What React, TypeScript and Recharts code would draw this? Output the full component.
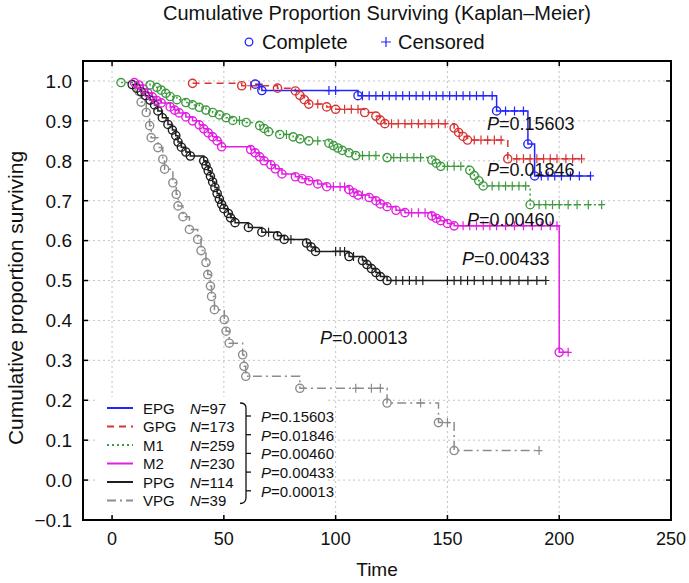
import React from "react";
import { LineChart, Line, XAxis, YAxis, CartesianGrid } from "recharts";

// ---- layout (pixels) ----
const W = 689;
const H = 583;
const PLOT_L = 83;
const PLOT_R = 671;
const PLOT_T = 61;
const PLOT_B = 520;
const FONT = '"Liberation Sans", Arial, Helvetica, sans-serif';

// ---- axes ----
const X_TICKS = [0, 50, 100, 150, 200, 250];
const Y_TICKS = [-0.1, 0, 0.1, 0.2, 0.3, 0.4, 0.5, 0.6, 0.7, 0.8, 0.9, 1.0];

// ---- groups ----
const GROUPS = ["EPG", "GPG", "M1", "M2", "PPG", "VPG"];
const GROUP_N = [97, 173, 259, 230, 114, 39];
const P_VALUES = ["0.15603", "0.01846", "0.00460", "0.00433", "0.00013"];

// [time, cumulative proportion surviving] at each complete (event) time
const EPG_EVENTS: [number, number][] = [
  [64, 0.992], [67, 0.976], [110, 0.963], [172, 0.925], [186, 0.842], [189, 0.762],
];
const EPG_CENS = [97, 100, 112, 115, 118, 121, 124, 127, 130, 133, 136, 139, 142, 145, 148, 151, 154, 157, 160, 163, 166, 170, 176, 180, 184, 192, 195, 198, 201, 205, 209, 214];

const GPG_EVENTS: [number, number][] = [
  [36, 0.994], [58, 0.988], [74, 0.982], [82, 0.975], [84, 0.964], [86, 0.953], [88, 0.942],
  [96, 0.935], [100, 0.929], [113, 0.921], [118, 0.912], [120, 0.902], [122, 0.893],
  [153, 0.882], [155, 0.871], [157, 0.861], [159, 0.852], [177, 0.805],
];
const GPG_CENS = [62, 66, 92, 104, 107, 110, 125, 128, 131, 134, 137, 140, 143, 146, 149, 162, 165, 168, 171, 174, 181, 184, 187, 190, 193, 196, 199, 203, 206, 210];

const M1_EVENTS: [number, number][] = [
  [4, 0.996], [17, 0.99], [20, 0.984], [22, 0.977], [24, 0.969], [26, 0.961], [29, 0.953],
  [33, 0.946], [36, 0.94], [39, 0.934], [42, 0.927], [45, 0.921], [48, 0.915], [51, 0.908],
  [54, 0.901], [60, 0.896], [66, 0.888], [68, 0.881], [70, 0.873], [75, 0.866], [81, 0.86],
  [84, 0.855], [88, 0.85], [97, 0.844], [99, 0.838], [101, 0.832], [103, 0.826], [106, 0.82],
  [109, 0.813], [123, 0.808], [143, 0.802], [145, 0.794], [147, 0.786], [160, 0.776],
  [162, 0.763], [164, 0.75], [166, 0.737], [187, 0.69],
];
const M1_CENS = [57, 78, 92, 112, 115, 118, 126, 129, 132, 135, 138, 150, 153, 156, 170, 173, 176, 179, 182, 185, 191, 194, 197, 200, 204, 208, 213, 219];

const M2_EVENTS: [number, number][] = [
  [10, 0.996], [12, 0.99], [14, 0.98], [16, 0.97], [18, 0.96], [20, 0.951], [22, 0.945],
  [26, 0.935], [28, 0.927], [30, 0.92], [33, 0.91], [36, 0.9], [39, 0.89], [41, 0.88],
  [43, 0.87], [45, 0.86], [47, 0.85], [49, 0.835], [62, 0.828], [64, 0.82], [66, 0.81],
  [68, 0.8], [71, 0.79], [73, 0.78], [76, 0.767], [82, 0.76], [85, 0.755], [88, 0.75],
  [92, 0.742], [96, 0.735], [106, 0.728], [108, 0.72], [110, 0.714], [115, 0.708],
  [118, 0.7], [120, 0.692], [123, 0.685], [127, 0.676], [131, 0.67], [143, 0.662],
  [145, 0.656], [147, 0.65], [150, 0.643], [153, 0.637], [200, 0.32],
];
const M2_CENS = [99, 102, 104, 112, 134, 137, 140, 157, 160, 163, 166, 169, 172, 176, 180, 184, 188, 192, 196, 199, 204];

const PPG_EVENTS: [number, number][] = [
  [9, 0.991], [11, 0.982], [13, 0.973], [15, 0.963], [17, 0.952], [19, 0.94], [20.5, 0.925],
  [22.5, 0.908], [25, 0.891], [27, 0.877], [28.5, 0.863], [29.5, 0.847], [31, 0.834],
  [33, 0.822], [35, 0.812], [41, 0.8], [42, 0.788], [43, 0.775], [44, 0.761], [45, 0.747],
  [46, 0.733], [47, 0.718], [48, 0.704], [49, 0.691], [50, 0.68], [52, 0.668], [53, 0.657],
  [55, 0.645], [61, 0.633], [67, 0.621], [74, 0.612], [77, 0.603], [87, 0.594], [89, 0.584],
  [91, 0.573], [106, 0.56], [112, 0.55], [114, 0.54], [116, 0.53], [118, 0.52], [120, 0.51],
  [123, 0.5],
];
const PPG_CENS = [70, 80, 100, 102, 104, 108, 127, 130, 133, 136, 139, 150, 153, 156, 159, 162, 166, 170, 174, 178, 182, 186, 190, 194];

const VPG_EVENTS: [number, number][] = [
  [12, 0.974], [13, 0.947], [15.3, 0.921], [16.8, 0.888], [17.5, 0.858], [20.5, 0.833],
  [22.7, 0.804], [23.5, 0.779], [27.2, 0.745], [28.7, 0.716], [29.5, 0.687], [31.7, 0.66],
  [34.6, 0.628], [38.3, 0.603], [39.8, 0.575], [42, 0.545], [42.8, 0.515], [44, 0.486],
  [44.5, 0.46], [45.8, 0.427], [50.2, 0.402], [51, 0.373], [52.4, 0.343], [58.4, 0.314],
  [59, 0.285], [59.8, 0.26], [84, 0.23], [123, 0.193], [146, 0.144], [153, 0.074],
];
const VPG_CENS = [109, 116, 120, 138, 150, 191];

const COLORS = ["#2424ff", "#d83434", "#3f9a3f", "#e21fe2", "#1e1e1e", "#8c8c8c"];
const DASHES = ["none", "7 5", "2 3", "none", "none", "9 4 2 4"];

type Pt = { t: number; s: number; k: "o" | "+" };

// merge complete and censored times; a censored case sits on the current step level
function buildSeries(events: [number, number][], cens: number[]): Pt[] {
  const pts: Pt[] = events.map(([t, s]) => ({ t, s, k: "o" }));
  for (const t of cens) {
    let level = 1;
    for (const [et, es] of events) if (et <= t) level = es;
    pts.push({ t, s: level, k: "+" });
  }
  return pts.sort((a, b) => a.t - b.t);
}

const SERIES = [
  buildSeries(EPG_EVENTS, EPG_CENS),
  buildSeries(GPG_EVENTS, GPG_CENS),
  buildSeries(M1_EVENTS, M1_CENS),
  buildSeries(M2_EVENTS, M2_CENS),
  buildSeries(PPG_EVENTS, PPG_CENS),
  buildSeries(VPG_EVENTS, VPG_CENS),
];

const makeDot = (color: string) => (p: any) => {
  const { cx, cy, payload, index } = p;
  if (cx == null || cy == null) return <g key={`d${index}`} />;
  if (payload.k === "o") {
    return (
      <circle key={`d${index}`} cx={cx} cy={cy} r={4.1} fill="none" stroke={color} strokeWidth={1.4} strokeDasharray="none" />
    );
  }
  return (
    <path
      key={`d${index}`}
      d={`M${cx - 3.5},${cy}H${cx + 3.5}M${cx},${cy - 4.5}V${cy + 4.5}`}
      stroke={color}
      strokeWidth={1.2}
      strokeDasharray="none"
      fill="none"
    />
  );
};

const fmtY = (v: number) => (v < 0 ? `\u2212${Math.abs(v).toFixed(1)}` : v.toFixed(1));

const XTick = (p: any) => {
  const { x, payload } = p;
  return (
    <g>
      <line x1={x} x2={x} y1={PLOT_B} y2={PLOT_B - 5} stroke="#000" strokeWidth={1.5} />
      <line x1={x} x2={x} y1={PLOT_T} y2={PLOT_T + 5} stroke="#000" strokeWidth={1.5} />
      <text x={x} y={PLOT_B + 25} textAnchor="middle" fontSize={18} fontFamily={FONT} fill="#111">
        {payload.value}
      </text>
    </g>
  );
};

const YTick = (p: any) => {
  const { y, payload } = p;
  return (
    <g>
      <line x1={PLOT_L} x2={PLOT_L + 5} y1={y} y2={y} stroke="#000" strokeWidth={1.5} />
      <line x1={PLOT_R} x2={PLOT_R - 5} y1={y} y2={y} stroke="#000" strokeWidth={1.5} />
      <text x={72} y={y} dy="0.36em" textAnchor="end" fontSize={19} fontFamily={FONT} fill="#111">
        {fmtY(payload.value)}
      </text>
    </g>
  );
};

function Overlay() {
  const rowY = (i: number) => 408 + i * 18.5;
  const pY = (i: number) => 417 + i * 18.7;
  return (
    <svg width={W} height={H} style={{ position: "absolute", left: 0, top: 0, pointerEvents: "none" }} fontFamily={FONT}>
      {/* title + marker legend */}
      <text x={377} y={20} textAnchor="middle" fontSize={20} fill="#111">
        Cumulative Proportion Surviving (Kaplan–Meier)
      </text>
      <circle cx={249} cy={42} r={3.8} fill="none" stroke={COLORS[0]} strokeWidth={1.3} />
      <text x={262} y={49} fontSize={20} fill="#111">Complete</text>
      <path d="M381,42H391M386,37V47" stroke={COLORS[0]} strokeWidth={1.2} />
      <text x={398} y={49} fontSize={20} fill="#111">Censored</text>

      {/* frame */}
      <rect x={PLOT_L} y={PLOT_T} width={PLOT_R - PLOT_L} height={PLOT_B - PLOT_T} fill="none" stroke="#000" strokeWidth={2} />

      {/* axis titles */}
      <text x={377} y={576} textAnchor="middle" fontSize={19} fill="#111">Time</text>
      <text transform="translate(23,298) rotate(-90)" textAnchor="middle" fontSize={21} fill="#111">
        Cumulative proportion surviving
      </text>

      {/* P annotations on the curves */}
      {[
        [487, 130],
        [487, 176],
        [467, 226],
        [462, 265],
        [320, 344],
      ].map(([x, y], i) => (
        <text key={`pa${i}`} x={x} y={y} fontSize={18} fill="#111">
          <tspan fontStyle="italic">P</tspan>={P_VALUES[i]}
        </text>
      ))}

      {/* group legend */}
      <rect x={98} y={397} width={230} height={115} fill="#fff" />
      {GROUPS.map((g, i) => (
        <g key={g}>
          <line
            x1={107}
            x2={133}
            y1={rowY(i)}
            y2={rowY(i)}
            stroke={COLORS[i]}
            strokeWidth={2}
            strokeDasharray={DASHES[i]}
          />
          <text x={143} y={rowY(i) + 5.5} fontSize={15} fill="#111">{g}</text>
          <text x={190} y={rowY(i) + 5.5} fontSize={15} fill="#111">
            <tspan fontStyle="italic">N</tspan>={GROUP_N[i]}
          </text>
        </g>
      ))}
      <path
        d={`M240,403 Q246,403 246,408 V${rowY(5) - 3} Q246,${rowY(5) + 3} 240,${rowY(5) + 3}`}
        fill="none"
        stroke="#111"
        strokeWidth={1.3}
      />
      {P_VALUES.map((v, i) => (
        <g key={`pv${i}`}>
          <line x1={246} x2={251} y1={pY(i) - 1} y2={pY(i) - 1} stroke="#111" strokeWidth={1.3} />
          <text x={261} y={pY(i) + 5} fontSize={15} fill="#111">
            <tspan fontStyle="italic">P</tspan>={v}
          </text>
        </g>
      ))}
    </svg>
  );
}

export default function App() {
  const order = [5, 4, 3, 2, 1, 0];
  return (
    <div style={{ position: "absolute", left: 0, top: 0, width: W, height: H, background: "#fff" }}>
      <LineChart width={W} height={H} margin={{ top: PLOT_T, right: W - PLOT_R, bottom: H - PLOT_B - 30, left: 0 }}>
        <CartesianGrid stroke="#c4c4c4" strokeDasharray="2 3" />
        <XAxis
          type="number"
          dataKey="t"
          domain={[-13, 250]}
          ticks={X_TICKS}
          interval={0}
          allowDataOverflow
          axisLine={false}
          tickLine={false}
          height={30}
          tick={XTick}
        />
        <YAxis
          type="number"
          domain={[-0.1, 1.05]}
          ticks={Y_TICKS}
          interval={0}
          allowDataOverflow
          axisLine={false}
          tickLine={false}
          width={PLOT_L}
          tick={YTick}
        />
        {order.map((i) => (
          <Line
            key={GROUPS[i]}
            data={SERIES[i]}
            dataKey="s"
            type="stepAfter"
            stroke={COLORS[i]}
            strokeWidth={1.5}
            strokeDasharray={DASHES[i]}
            dot={makeDot(COLORS[i])}
            activeDot={false}
            isAnimationActive={false}
          />
        ))}
      </LineChart>
      <Overlay />
    </div>
  );
}
